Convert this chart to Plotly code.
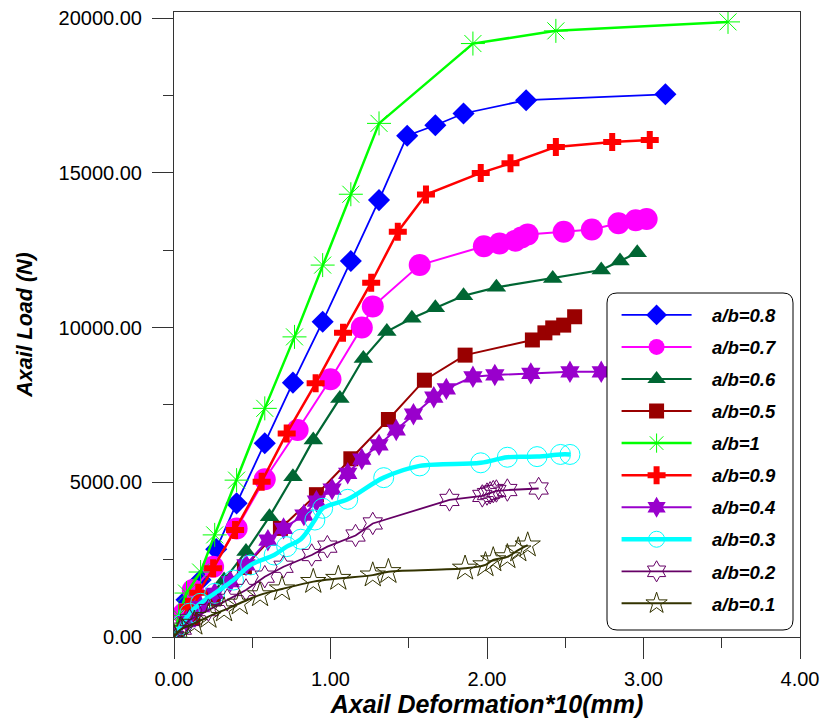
import plotly.graph_objects as go

# ---- data ----
x08 = [0, 0.08, 0.17, 0.27, 0.40, 0.58, 0.76, 0.95, 1.13, 1.31, 1.49, 1.67, 1.85, 2.25, 3.14]
y08 = [0, 1200, 1840, 2840, 4320, 6260, 8220, 10190, 12150, 14120, 16200, 16540, 16920, 17350, 17540]

x07 = [0, 0.06, 0.12, 0.25, 0.40, 0.58, 0.79, 1.00, 1.20, 1.27, 1.57, 1.98, 2.08, 2.18, 2.22, 2.26, 2.49, 2.67, 2.84, 2.95, 3.02]
y07 = [0, 750, 1520, 2270, 3510, 5100, 6690, 8330, 10000, 10680, 12020, 12630, 12720, 12810, 12910, 13010, 13100, 13170, 13370, 13470, 13510]

x06 = [0, 0.08, 0.17, 0.32, 0.46, 0.61, 0.76, 0.89, 1.06, 1.21, 1.36, 1.52, 1.67, 1.85, 2.06, 2.42, 2.73, 2.85, 2.96]
y06 = [0, 480, 1000, 1840, 2760, 3890, 5180, 6370, 7710, 9000, 9870, 10300, 10640, 11030, 11300, 11590, 11860, 12150, 12420]

x05 = [0, 0.12, 0.25, 0.45, 0.68, 0.91, 1.13, 1.37, 1.60, 1.86, 2.29, 2.37, 2.42, 2.49, 2.56]
y05 = [0, 600, 1250, 2250, 3510, 4600, 5760, 7030, 8300, 9110, 9600, 9830, 9990, 10080, 10350]

x10 = [0, 0.03, 0.08, 0.17, 0.26, 0.40, 0.58, 0.77, 0.95, 1.13, 1.31, 1.91, 2.44, 3.54]
y10 = [0, 700, 1420, 2100, 3300, 5070, 7390, 9700, 12020, 14310, 16600, 19180, 19590, 19880]

x09 = [0, 0.09, 0.155, 0.25, 0.39, 0.56, 0.72, 0.905, 1.08, 1.26, 1.43, 1.61, 1.96, 2.15, 2.44, 2.80, 3.04]
y09 = [0, 980, 1430, 2220, 3460, 5020, 6580, 8200, 9830, 11450, 13100, 14300, 15000, 15310, 15840, 16000, 16060]

x04 = [0, 0.08, 0.17, 0.26, 0.36, 0.46, 0.60, 0.70, 0.83, 0.91, 1.01, 1.11, 1.20, 1.31, 1.42, 1.53, 1.66, 1.74, 1.91, 2.05, 2.28, 2.53, 2.73]
y04 = [0, 500, 980, 1410, 1790, 2330, 3130, 3510, 3940, 4390, 4780, 5290, 5750, 6210, 6690, 7200, 7750, 8020, 8410, 8470, 8520, 8570, 8570]

x03 = [0, 0.05, 0.10, 0.17, 0.26, 0.38, 0.49, 0.64, 0.72, 0.81, 0.90, 0.95, 1.11, 1.34, 1.57, 1.96, 2.13, 2.32, 2.47, 2.53]
y03 = [0, 400, 770, 1090, 1410, 1840, 2330, 2650, 2920, 3160, 3780, 4160, 4450, 5150, 5530, 5630, 5810, 5830, 5900, 5900]

x02 = [0, 0.05, 0.10, 0.22, 0.34, 0.46, 0.58, 0.70, 0.88, 0.98, 1.16, 1.27, 1.76, 1.97, 2.00, 2.02, 2.04, 2.06, 2.13, 2.33]
y02 = [0, 270, 550, 870, 1200, 1520, 1950, 2270, 2650, 2920, 3280, 3670, 4430, 4560, 4620, 4660, 4700, 4720, 4750, 4800]

x01 = [0, 0.04, 0.13, 0.22, 0.32, 0.42, 0.55, 0.69, 0.89, 1.05, 1.27, 1.37, 1.86, 1.99, 2.04, 2.13, 2.20, 2.26]
y01 = [0, 230, 440, 660, 870, 1090, 1360, 1550, 1790, 1890, 2000, 2110, 2220, 2330, 2490, 2590, 2810, 2970]

names = ["a/b=0.8", "a/b=0.7", "a/b=0.6", "a/b=0.5", "a/b=1", "a/b=0.9",
         "a/b=0.4", "a/b=0.3", "a/b=0.2", "a/b=0.1"]
xs = [x08, x07, x06, x05, x10, x09, x04, x03, x02, x01]
ys = [y08, y07, y06, y05, y10, y09, y04, y03, y02, y01]

colors = ["#0000FF", "#FF00FF", "#006633", "#990000", "#00FF00", "#FF0000",
          "#9900CC", "#00FFFF", "#660066", "#333300"]
symbols = ["diamond", "circle", "triangle-up", "square", "asterisk-open", "cross",
           "hexagram", "circle-open", "hexagram-open", "star-open"]
msizes = [17, 22, 17, 15, 20, 15, 17, 20, 17, 19]
lwidths = [1.8, 2, 2.2, 2, 2.5, 2.5, 2, 4.5, 1.8, 2]
shapes_line = ["linear", "linear", "linear", "linear", "linear", "linear",
               "linear", "spline", "linear", "spline"]

FONT = "Arial, Liberation Sans, sans-serif"
PAD = "\u00a0\u00a0\u00a0"

fig = go.Figure()
for i in range(len(names)):
    open_sym = symbols[i].endswith("open")
    fig.add_trace(go.Scatter(
        x=xs[i], y=ys[i], name=PAD + names[i], mode="lines+markers",
        legendgroup=names[i],
        line=dict(color=colors[i], width=lwidths[i], shape=shapes_line[i]),
        marker=dict(symbol=symbols[i], size=msizes[i], color=colors[i],
                    line=dict(color=colors[i], width=1 if open_sym else 0)),
    ))

fig.update_layout(
    width=822, height=722,
    margin=dict(l=174, r=22, t=12, b=85, autoexpand=False),
    paper_bgcolor="white", plot_bgcolor="white",
    font=dict(family=FONT, color="black"),
    showlegend=True,
    legend=dict(
        x=0.707, y=0.545, xanchor="left", yanchor="top",
        bgcolor="rgba(255,255,255,0)", borderwidth=0,
        itemwidth=70, tracegroupgap=5,
        font=dict(family=FONT, size=18.5, color="black", style="italic", weight="bold"),
        itemsizing="trace",
    ),
    xaxis=dict(
        range=[0, 4], dtick=1, tick0=0, tickformat=".2f", automargin=False,
        ticks="outside", ticklen=21, tickwidth=1, tickcolor="#333",
        minor=dict(dtick=0.5, ticks="outside", ticklen=10, tickcolor="#333"),
        showline=True, linecolor="#333", linewidth=1, mirror=True,
        showgrid=False, zeroline=False, ticklabelstandoff=3,
        tickfont=dict(family=FONT, size=20, color="black"),
        title=dict(text="Axail Deformation*10(mm)", standoff=6,
                   font=dict(family=FONT, size=25, color="black", style="italic", weight="bold")),
    ),
    yaxis=dict(
        range=[0, 20200], dtick=5000, tick0=0, tickformat=".2f", automargin=False,
        ticks="outside", ticklen=21, tickwidth=1, tickcolor="#333",
        minor=dict(dtick=2500, ticks="outside", ticklen=10, tickcolor="#333"),
        showline=True, linecolor="#333", linewidth=1, mirror=True,
        showgrid=False, zeroline=False, ticklabelstandoff=6,
        tickfont=dict(family=FONT, size=20, color="black"),
        title=dict(text="Axail Load (N)", standoff=20,
                   font=dict(family=FONT, size=21.5, color="black", style="italic", weight="bold")),
    ),
)

# rounded legend frame
x0, x1 = (607 - 174) / 626, (793 - 174) / 626
y1, y0 = (637 - 293) / 625, (637 - 630) / 625
r = 10 / 626
path = (f"M{x0 + r},{y0} L{x1 - r},{y0} Q{x1},{y0} {x1},{y0 + r} "
        f"L{x1},{y1 - r} Q{x1},{y1} {x1 - r},{y1} L{x0 + r},{y1} "
        f"Q{x0},{y1} {x0},{y1 - r} L{x0},{y0 + r} Q{x0},{y0} {x0 + r},{y0} Z")
fig.add_shape(type="path", path=path, xref="paper", yref="paper",
              line=dict(color="black", width=1), fillcolor="white", layer="above")

fig.write_html("out.html", config={"displayModeBar": False})

# remove default page margin so the figure sits at the window origin
with open("out.html", "r", encoding="utf-8") as f:
    html = f.read()
html = html.replace("<head>", "<head><style>html,body{margin:0;padding:0;overflow:hidden;}</style>", 1)
with open("out.html", "w", encoding="utf-8") as f:
    f.write(html)
